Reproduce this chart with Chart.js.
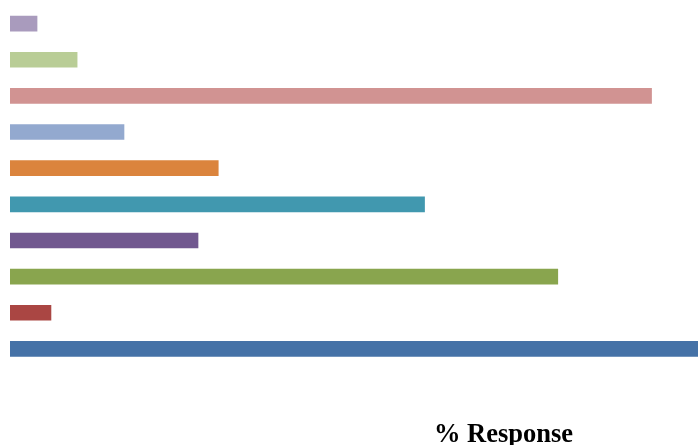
<!DOCTYPE html>
<html>
<head>
<meta charset="utf-8">
<script src="https://cdn.jsdelivr.net/npm/chart.js@4/dist/chart.umd.min.js"></script>
<style>
  html, body { margin: 0; padding: 0; background: #fff; overflow: hidden; }
  #wrap { width: 1000px; height: 445px; }
</style>
</head>
<body>
<div id="wrap"><canvas id="chart" width="1000" height="445"></canvas></div>
<script>
// categories bottom -> top (the picture is a crop, labels sit outside it)
const categories = ["1", "2", "3", "4", "5", "6", "7", "8", "9", "10"];
const responses = [72, 4.15, 55.5, 19.05, 42.0, 21.1, 11.55, 65.0, 6.8, 2.74];
const barColors = ["#4572A7", "#AA4643", "#89A54E", "#71588F", "#4198AF",
                   "#DB843D", "#93A9CF", "#D19392", "#B9CD96", "#A99BBD"];
const axisTitle = "% Response";

const ctx = document.getElementById("chart").getContext("2d");
new Chart(ctx, {
  type: "bar",
  data: {
    labels: categories,
    datasets: [{
      data: responses,
      backgroundColor: barColors,
      borderWidth: 0,
      barThickness: 15
    }]
  },
  options: {
    indexAxis: "y",
    responsive: false,
    animation: false,
    layout: { padding: { left: 10, right: 3, top: 5.5, bottom: 0 } },
    scales: {
      y: {
        reverse: true,
        display: false
      },
      x: {
        min: 0,
        max: 100,
        grid: { display: false, drawTicks: false },
        border: { display: false },
        ticks: { display: false },
        title: {
          display: true,
          text: axisTitle,
          color: "#000",
          font: { family: "Liberation Serif", size: 26.5, weight: "bold", lineHeight: 1 },
          padding: { top: 54.5, bottom: -3 }
        }
      }
    },
    plugins: {
      legend: { display: false },
      tooltip: { enabled: false }
    }
  }
});
</script>
</body>
</html>
